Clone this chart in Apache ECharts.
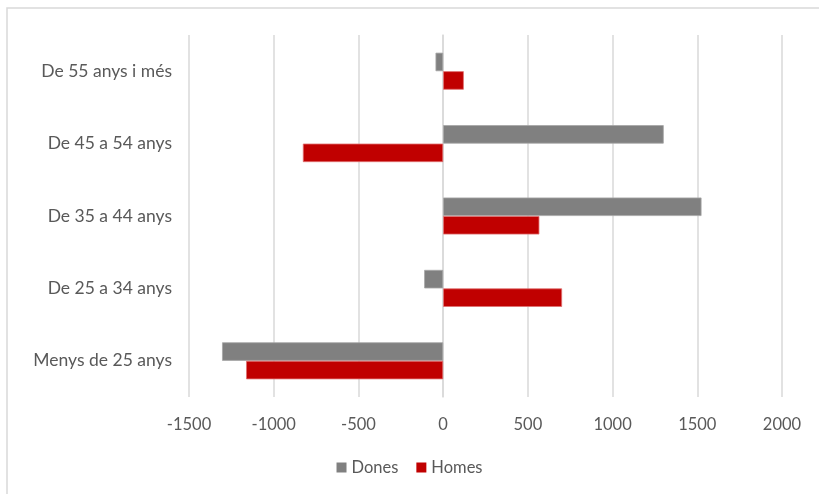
<!DOCTYPE html>
<html>
<head>
<meta charset="utf-8">
<script src="https://cdn.jsdelivr.net/npm/echarts@6/dist/echarts.min.js"></script>
<style>html,body{margin:0;padding:0;background:#fff}#c{width:819px;height:494px}</style>
</head>
<body>
<div id="c"></div>
<script>
const categories = ['Menys de 25 anys', 'De 25 a 34 anys', 'De 35 a 44 anys', 'De 45 a 54 anys', 'De 55 anys i més'];
const dones = [-1305, -112, 1525, 1302, -45];
const homes = [-1163, 702, 568, -828, 122];
const xTicks = { min: -1500, max: 2000, interval: 500 };

const chart = echarts.init(document.getElementById('c'));
const font = 'Lato, "Open Sans", sans-serif';
chart.setOption({
  animation: false,
  textStyle: { fontFamily: font },
  graphic: [{
    type: 'rect', shape: { x: 7, y: 8, width: 900, height: 600 },
    style: { fill: 'none', stroke: '#d9d9d9', lineWidth: 1.5 }, silent: true
  }],
  grid: { left: 189, right: 37, top: 35, bottom: 97 },
  legend: {
    data: ['Dones', 'Homes'], bottom: 13, left: 'center',
    itemWidth: 10, itemHeight: 10, itemGap: 18, icon: 'rect',
    itemStyle: { borderWidth: 0 },
    textStyle: { color: '#595959', fontSize: 16.5, fontFamily: font }
  },
  xAxis: {
    type: 'value', min: xTicks.min, max: xTicks.max, interval: xTicks.interval,
    axisLine: { show: false }, axisTick: { show: false },
    axisLabel: { color: '#595959', fontSize: 16.5, margin: 19, fontFamily: font,
      formatter: v => String(v) },
    splitLine: { lineStyle: { color: '#d9d9d9', width: 1.5 } }
  },
  yAxis: {
    type: 'category', data: categories,
    axisLine: { show: true, onZero: true, lineStyle: { color: '#d9d9d9', width: 1.5 } },
    axisTick: { show: false },
    axisLabel: { color: '#595959', fontSize: 17.5, margin: 17, fontFamily: font }
  },
  series: [
    { name: 'Dones', type: 'bar', data: dones, barWidth: 18.5, barGap: '0%',
      itemStyle: { color: '#808080', borderColor: '#a6a6a6', borderWidth: 0.8 } },
    { name: 'Homes', type: 'bar', data: homes, barWidth: 18.5, barGap: '0%',
      itemStyle: { color: '#c00000', borderColor: '#e07070', borderWidth: 0.8 } }
  ]
});
</script>
</body>
</html>
